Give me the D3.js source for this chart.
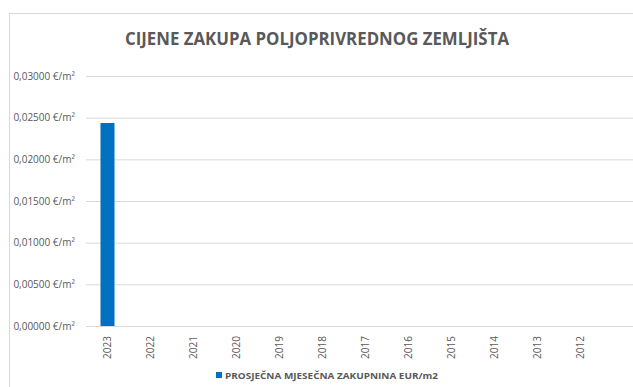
<!DOCTYPE html>
<html>
<head>
<meta charset="utf-8">
<script src="https://cdn.jsdelivr.net/npm/d3@7"></script>
<style>
  html, body { margin: 0; padding: 0; background: #fff; }
  svg { display: block; }
  text { font-family: "Open Sans", "Noto Sans", sans-serif; fill: #595959; }
</style>
</head>
<body>
<svg id="chart" width="633" height="387"></svg>
<script>
// Average monthly lease price of agricultural land, by year
const years = ["2023", "2022", "2021", "2020", "2019", "2018", "2017", "2016", "2015", "2014", "2013", "2012"];
const leasePrice = [0.02436, null, null, null, null, null, null, null, null, null, null, null];
const yTicks = [0, 0.005, 0.01, 0.015, 0.02, 0.025, 0.03];
const chartTitle = "CIJENE ZAKUPA POLJOPRIVREDNOG ZEMLJIŠTA";
const seriesName = "PROSJEČNA MJESEČNA ZAKUPNINA EUR/m2";

const W = 633, H = 387;
const plot = { left: 86, right: 602, top: 76, bottom: 326 };
const svg = d3.select("#chart");

// Chart frame (extends past the visible area on the right and bottom)
svg.append("rect")
  .attr("x", 9.5).attr("y", 13.5)
  .attr("width", W + 20).attr("height", H + 20)
  .attr("fill", "#fff").attr("stroke", "#d9d9d9").attr("stroke-width", 1);

const x = d3.scaleBand().domain(years).range([plot.left, plot.right]).paddingInner(0.674).paddingOuter(0.337);
const y = d3.scaleLinear().domain([0, 0.03]).range([plot.bottom, plot.top]);

const fmt = v => d3.format(".5f")(v).replace(".", ",") + " €/m²";

// Horizontal gridlines and value axis labels
const yAxis = d3.axisLeft(y).tickValues(yTicks).tickSize(-(W - plot.left)).tickFormat(fmt).tickPadding(11);
const gy = svg.append("g").attr("transform", `translate(${plot.left},0)`).call(yAxis);
gy.select(".domain").remove();
gy.selectAll(".tick line").attr("stroke", "#d9d9d9").attr("stroke-width", 1);
gy.selectAll(".tick text")
  .attr("font-size", 10).attr("fill", "#595959")
  .style("font-family", '"Open Sans", sans-serif');

// Bars
svg.append("g").selectAll("rect")
  .data(years.map((yr, i) => ({ yr, v: leasePrice[i] })).filter(d => d.v != null))
  .join("rect")
  .attr("x", d => x(d.yr))
  .attr("width", x.bandwidth())
  .attr("y", d => y(d.v))
  .attr("height", d => y(0) - y(d.v))
  .attr("fill", "#0070C0");

// Category axis with rotated year labels
const xAxis = d3.axisBottom(x).tickSize(0).tickPadding(0);
const gx = svg.append("g").attr("transform", `translate(0,${plot.bottom})`).call(xAxis);
gx.select(".domain").remove();
gx.selectAll(".tick text")
  .attr("font-size", 10).attr("fill", "#595959")
  .attr("text-anchor", "end")
  .attr("dy", "0.35em")
  .attr("transform", "translate(0,10) rotate(-90)")
  .attr("x", 0).attr("y", 0);

// Title
svg.append("text")
  .attr("x", 317).attr("y", 45)
  .attr("text-anchor", "middle")
  .attr("font-size", 18).attr("font-weight", "bold")
  .attr("textLength", 384).attr("lengthAdjust", "spacingAndGlyphs")
  .attr("fill", "#595959")
  .text(chartTitle);

// Legend
const lg = svg.append("g");
lg.append("rect").attr("x", 216).attr("y", 372).attr("width", 6).attr("height", 6).attr("fill", "#0070C0");
lg.append("text")
  .attr("x", 225).attr("y", 378.5)
  .attr("font-size", 9).attr("font-weight", "bold")
  .attr("textLength", 213).attr("lengthAdjust", "spacingAndGlyphs")
  .attr("fill", "#595959")
  .text(seriesName);
</script>
</body>
</html>
